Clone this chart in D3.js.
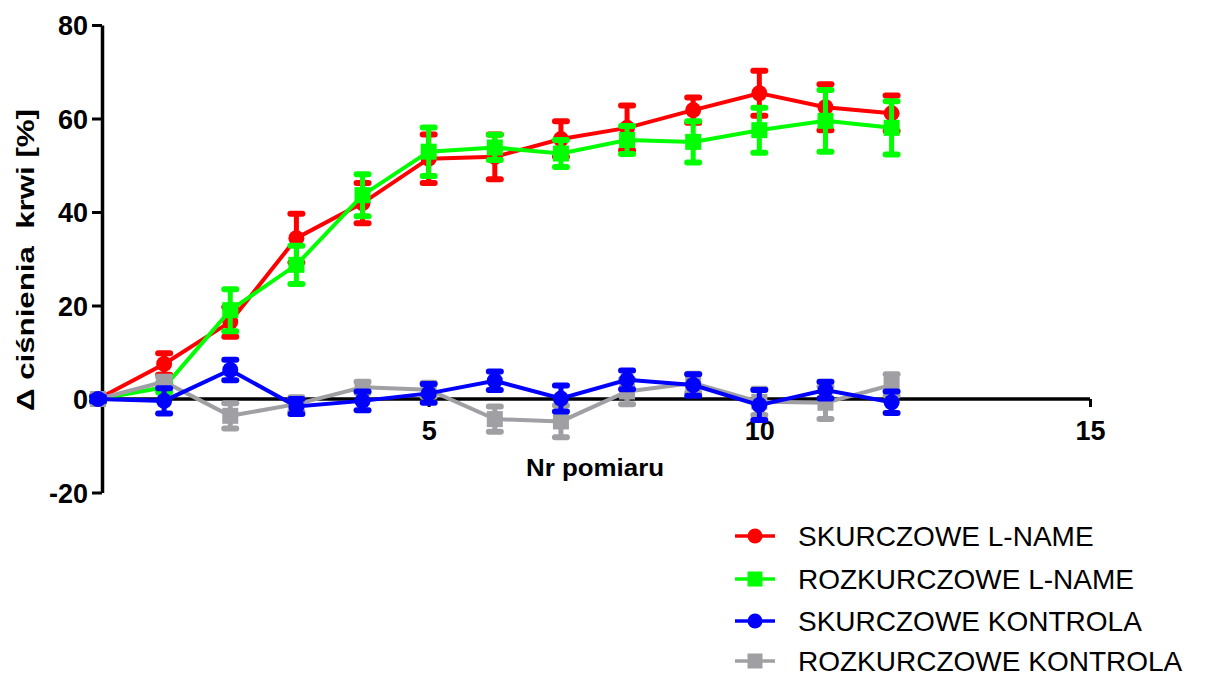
<!DOCTYPE html>
<html>
<head>
<meta charset="utf-8">
<script src="https://cdn.jsdelivr.net/npm/d3@7"></script>
<style>
  body { margin: 0; background: #fff; }
  svg { display: block; font-family: "Liberation Sans", Arial, sans-serif; }
</style>
</head>
<body>
<div id="chart"></div>
<script>
// measurement numbers
const pomiar = [0, 1, 2, 3, 4, 5, 6, 7, 8, 9, 10, 11, 12];

// mean and SEM per series
const skurczLname = [0, 7.5, 16.5, 34.4, 41.9, 51.4, 51.8, 55.6, 58.0, 61.8, 65.4, 62.4, 61.1];
const skurczLnameSem = [0.5, 2.3, 3.2, 5.2, 4.3, 5.2, 4.8, 3.8, 4.8, 2.7, 4.8, 4.9, 3.8];

const rozkurczLname = [0, 2.5, 19.0, 28.7, 43.6, 52.9, 53.8, 52.5, 55.4, 55.0, 57.5, 59.5, 58.0];
const rozkurczLnameSem = [0.5, 1.0, 4.5, 4.1, 4.5, 5.2, 2.7, 2.9, 3.0, 4.4, 4.8, 6.6, 5.7];

const skurczKontrola = [0, -0.4, 6.2, -1.6, -0.4, 1.2, 3.9, 0.1, 4.1, 3.0, -1.3, 1.9, -0.7];
const skurczKontrolaSem = [0.5, 2.7, 2.2, 1.6, 2.0, 2.0, 2.0, 2.8, 2.0, 2.3, 3.2, 1.8, 2.3];

const rozkurczKontrola = [0, 3.7, -3.6, -1.1, 2.5, 2.0, -4.3, -4.8, 1.6, 3.4, -0.6, -0.8, 3.0];
const rozkurczKontrolaSem = [0.8, 1.0, 2.7, 1.5, 1.2, 1.5, 2.7, 3.4, 2.7, 2.0, 2.8, 3.5, 2.3];

const seriesNames = ["SKURCZOWE L-NAME", "ROZKURCZOWE L-NAME", "SKURCZOWE KONTROLA", "ROZKURCZOWE KONTROLA"];
const seriesColors = ["#ff0000", "#00ff00", "#0000ff", "#a0a0a4"];
const seriesShapes = ["circle", "square", "circle", "square"];

const yTicks = [-20, 0, 20, 40, 60, 80];
const xTicks = [5, 10, 15];

const series = [
    { name: seriesNames[0], color: seriesColors[0], shape: seriesShapes[0], mean: skurczLname, sem: skurczLnameSem },
    { name: seriesNames[1], color: seriesColors[1], shape: seriesShapes[1], mean: rozkurczLname, sem: rozkurczLnameSem },
    { name: seriesNames[2], color: seriesColors[2], shape: seriesShapes[2], mean: skurczKontrola, sem: skurczKontrolaSem },
    { name: seriesNames[3], color: seriesColors[3], shape: seriesShapes[3], mean: rozkurczKontrola, sem: rozkurczKontrolaSem }
];
// drawing order: red, green, grey, blue (blue on top)
const drawOrder = [0, 1, 3, 2];

const width = 1205, height = 678;

const svg = d3.select("#chart")
    .append("svg")
    .attr("width", width)
    .attr("height", height);

const x = d3.scaleLinear().domain([0, 15]).range([98, 1090]);
const y = d3.scaleLinear().domain([-20, 80]).range([492.5, 25]);

// y axis
const yAxis = d3.axisLeft(y).tickValues(yTicks).tickSize(10).tickSizeOuter(0)
    .tickFormat(d => String(d));
const gy = svg.append("g")
    .attr("class", "axis y-axis")
    .attr("transform", "translate(102,0)")
    .call(yAxis);
gy.select(".domain").attr("stroke", "#000").attr("stroke-width", 3.5);
gy.selectAll(".tick line").attr("stroke", "#000").attr("stroke-width", 3);
gy.selectAll(".tick text")
    .attr("x", -14)
    .attr("dy", "0.36em")
    .style("font-size", "27px")
    .style("font-weight", "bold")
    .style("fill", "#000");

// x axis at y = 0
const xAxis = d3.axisBottom(x).tickValues(xTicks).tickSize(8).tickSizeOuter(0)
    .tickFormat(d => String(d));
const gx = svg.append("g")
    .attr("class", "axis x-axis")
    .attr("transform", "translate(0," + y(0) + ")")
    .call(xAxis);
gx.select(".domain").attr("stroke", "#000").attr("stroke-width", 3.5)
    .attr("d", "M" + 102 + ",0H" + x(15));
gx.selectAll(".tick line").attr("stroke", "#000").attr("stroke-width", 3);
gx.selectAll(".tick text")
    .attr("y", 41)
    .attr("dy", 0)
    .style("font-size", "27px")
    .style("font-weight", "bold")
    .style("fill", "#000");

// axis titles
svg.append("text")
    .attr("x", 595)
    .attr("y", 476)
    .attr("text-anchor", "middle")
    .attr("textLength", 138)
    .attr("lengthAdjust", "spacingAndGlyphs")
    .style("font-size", "24px")
    .style("font-weight", "bold")
    .text("Nr pomiaru");

svg.append("text")
    .attr("transform", "translate(34,260) rotate(-90)")
    .attr("text-anchor", "middle")
    .attr("textLength", 302)
    .attr("lengthAdjust", "spacingAndGlyphs")
    .style("font-size", "24px")
    .style("font-weight", "bold")
    .style("white-space", "pre")
    .text("Δ ciśnienia  krwi [%]");

// series
const line = d3.line()
    .x((d, i) => x(pomiar[i]))
    .y(d => y(d));

function drawMarker(g, shape, color, cx, cy, size) {
    if (shape === "circle") {
        g.append("circle").attr("cx", cx).attr("cy", cy).attr("r", size / 2).attr("fill", color);
    } else {
        g.append("rect").attr("x", cx - size / 2).attr("y", cy - size / 2)
            .attr("width", size).attr("height", size).attr("fill", color);
    }
}

drawOrder.forEach(k => {
    const s = series[k];
    const g = svg.append("g").attr("class", "series");

    g.append("path")
        .datum(s.mean)
        .attr("fill", "none")
        .attr("stroke", s.color)
        .attr("stroke-width", 4)
        .attr("d", line);

    // error bars
    s.mean.forEach((m, i) => {
        const cx = x(pomiar[i]);
        const top = y(m + s.sem[i]), bot = y(m - s.sem[i]);
        g.append("line")
            .attr("x1", cx).attr("x2", cx).attr("y1", top).attr("y2", bot)
            .attr("stroke", s.color).attr("stroke-width", 5);
        [top, bot].forEach(cy => {
            g.append("line")
                .attr("x1", cx - 6).attr("x2", cx + 6).attr("y1", cy).attr("y2", cy)
                .attr("stroke", s.color).attr("stroke-width", 6)
                .attr("stroke-linecap", "round");
        });
    });

    s.mean.forEach((m, i) => {
        drawMarker(g, s.shape, s.color, x(pomiar[i]), y(m), 16);
    });
});

// legend
const legendRows = [536, 579, 621, 661];
const legend = svg.append("g").attr("class", "legend");
series.forEach((s, i) => {
    const ly = legendRows[i];
    legend.append("line")
        .attr("x1", 735).attr("x2", 775).attr("y1", ly).attr("y2", ly)
        .attr("stroke", s.color).attr("stroke-width", 3.5);
    drawMarker(legend, s.shape, s.color, 755, ly, 15);
    legend.append("text")
        .attr("x", 798)
        .attr("y", ly + 10)
        .style("font-size", "28px")
        .style("fill", "#000")
        .text(s.name);
});
</script>
</body>
</html>
